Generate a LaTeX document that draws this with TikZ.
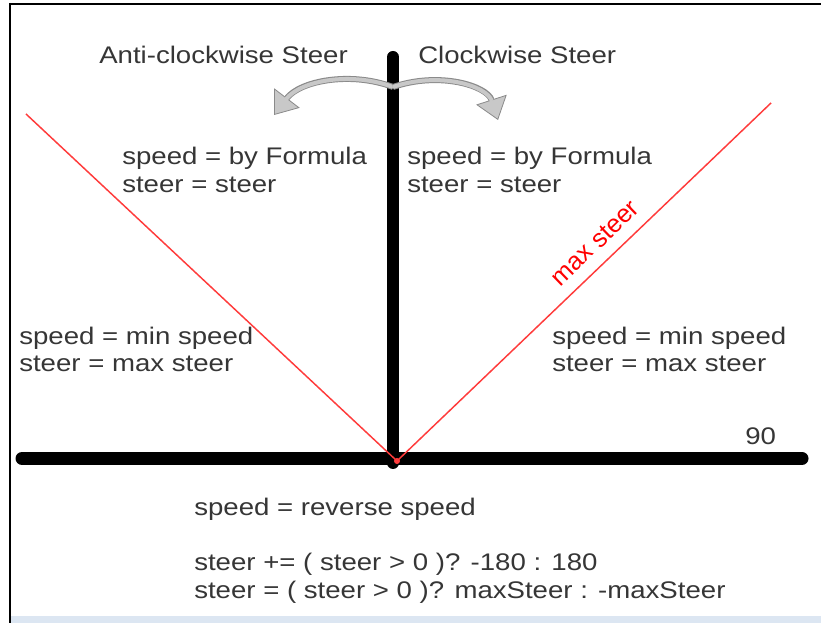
\documentclass[tikz,border=0pt]{standalone}
\usepackage{fontspec}
\setmainfont{Liberation Sans}
\usetikzlibrary{arrows.meta}
\definecolor{txt}{HTML}{363636}
\definecolor{redline}{HTML}{FF3B3B}
\definecolor{arrowfill}{HTML}{C8C8C8}
\definecolor{arrowdark}{HTML}{8A8A8A}
\definecolor{strip}{HTML}{DCE6F2}
\newcommand\sx[1]{\scalebox{1.15}[1]{#1}}
\tikzset{
  lbl/.style={anchor=base west, inner sep=0pt, text=txt, font=\fontsize{18pt}{21pt}\selectfont},
  bar/.style={line width=13*0.75pt, black},
  redl/.style={line width=1.1pt, redline},
}
\begin{document}
\begin{tikzpicture}[x=0.75pt,y=0.75pt]
\useasboundingbox (0,0) rectangle (821,623);
\fill[white] (0,0) rectangle (821,623);
% frame
\fill[strip] (11,0) rectangle (821,7);
\draw[line width=2.2pt] (9,619) -- (821,619);
\draw[line width=2.2pt] (10,620) -- (10,0);
% axes
\coordinate (o) at (397,162);
\coordinate (hl) at (22,164.5);
\coordinate (hr) at (802,164.5);
\coordinate (vt) at (393,566);
\coordinate (vb) at (393,160);
\draw[bar, line cap=round] (hl) -- (hr);
\draw[line width=12*0.75pt, line cap=round] (vt) -- (vb);
% red lines
\coordinate (lt) at (26,509);
\coordinate (rt) at (771,520);
\draw[redl] (lt) -- (o) -- (rt);
\fill[redline] (o) circle (3);
% curved arrows
\coordinate (as) at (393,536);
\coordinate (al) at (274,508);
\coordinate (ar) at (498,503);
\draw[arrowdark, line width=6*0.75pt, -{Triangle[length=16,width=24,line width=0.6pt,fill=arrowfill]}]
  (as) .. controls (350,552) and (300,542) .. (al);
\draw[arrowfill, line width=4*0.75pt, shorten >=15]
  (as) .. controls (350,552) and (300,542) .. (al);
\draw[arrowdark, line width=6*0.75pt, -{Triangle[length=16,width=24,line width=0.6pt,fill=arrowfill]}]
  (as) .. controls (440,552) and (487,537) .. (ar);
\draw[arrowfill, line width=4*0.75pt, shorten >=15]
  (as) .. controls (440,552) and (487,537) .. (ar);
% texts
\node[lbl] (acw) at (99,559) {\sx{Anti-clockwise Steer}};
\node[lbl] (cw) at (418,559) {\sx{Clockwise Steer}};
\node[lbl] (lf1) at (122,458) {\sx{speed = by Formula}};
\node[lbl] (lf2) at (122,430) {\sx{steer = steer}};
\node[lbl] (rf1) at (407,458) {\sx{speed = by Formula}};
\node[lbl] (rf2) at (407,430) {\sx{steer = steer}};
\node[lbl] (lm1) at (19,278) {\sx{speed = min speed}};
\node[lbl] (lm2) at (19,251) {\sx{steer = max steer}};
\node[lbl] (rm1) at (552,278) {\sx{speed = min speed}};
\node[lbl] (rm2) at (552,251) {\sx{steer = max steer}};
\node[lbl] (n90) at (745,178) {\sx{90}};
\node[lbl] (rev) at (194,107) {\sx{speed = reverse speed}};
\node[lbl] (st1) at (194,52) {\sx{steer += ( steer > 0 )? -180 : 180}};
\node[lbl] (st2) at (194,24) {\sx{steer = ( steer > 0 )? maxSteer : -maxSteer}};
\node[inner sep=0pt, text=red, rotate=44, font=\fontsize{19pt}{22pt}\selectfont] (ms) at (595,380) {max steer};
\end{tikzpicture}
\end{document}
